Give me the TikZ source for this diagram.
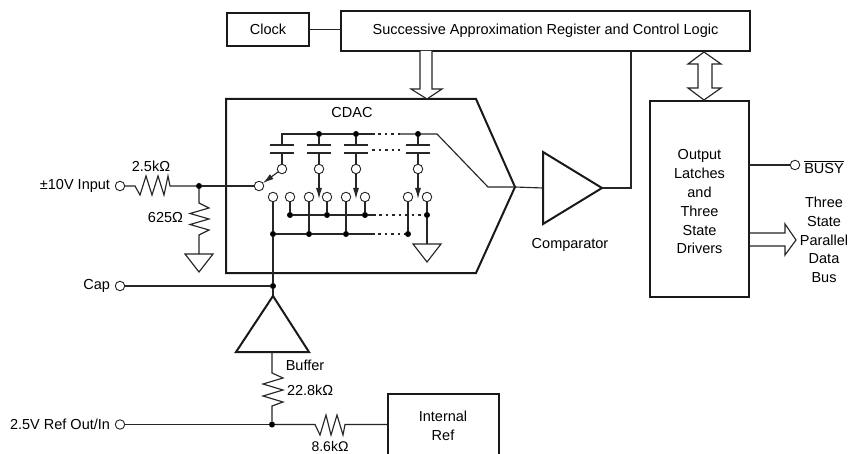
\documentclass[tikz,border=0pt]{standalone}
\usepackage{fontspec}
\setmainfont{Liberation Sans}
\usetikzlibrary{arrows.meta,calc}
\tikzset{
  x=1pt,y=-1pt,
  every node/.style={font=\fontsize{14.5}{17}\selectfont,inner sep=0pt,outer sep=0pt},
  wire/.style={line width=1.15pt,draw=black!85},
  heavy/.style={line width=2pt,draw=black!90,line join=miter},
  blockbox/.style={heavy,fill=white,rectangle,anchor=north west},
  term/.style={circle,draw=black!85,line width=.9pt,fill=white,minimum size=9.5pt},
  sw/.style={circle,draw=black!85,line width=.9pt,fill=white,minimum size=9.5pt},
  dot/.style={circle,fill=black,minimum size=6pt},
  openarrow/.style={line width=1.15pt,draw=black!85,fill=white,line join=miter},
  tip/.style={-{Latex[length=11pt,width=6pt]}},
  dots/.style={line width=1.1pt,draw=black!85,dash pattern=on 2.5pt off 4pt},
  lab/.style={align=center,font=\fontsize{14.5}{18.8}\selectfont}
}
\begin{document}
\begin{tikzpicture}
\useasboundingbox (0,0) rectangle (850,454);
\fill[white] (0,0) rectangle (850,454);

% top blocks
\node[blockbox,minimum width=82pt,minimum height=33pt] (clock) at (227,13) {};
\node at (clock.center) {Clock};
\node[blockbox,minimum width=409pt,minimum height=40pt] (sar) at (341,11) {};
\node at (sar.center) {Successive Approximation Register and Control Logic};
\draw[wire] (clock.east) -- (sar.west |- clock.east);

% CDAC body
\coordinate (cdacTip) at (515,187);
\draw[heavy] (226,99) -- (476,99) -- (cdacTip) -- (476,273) -- (226,273) -- cycle;
\node (cdaclabel) at (352,113) {CDAC};

% Output block
\node[blockbox,minimum width=99pt,minimum height=196pt] (out) at (650,101) {};
\node[lab,anchor=center,text width=90pt] at (699.5,202) {Output\\Latches\\and\\Three\\State\\Drivers};

% open arrows
\draw[openarrow] (420,51) -- (420,89) -- (411,89) -- (427,99) -- (442,89) -- (432,89) -- (432,51);
\draw[openarrow] (704,52) -- (721,64) -- (712,64) -- (712,88) -- (721,88) -- (704,100) -- (688,88) -- (698,88) -- (698,64) -- (688,64) -- cycle;
\draw[openarrow] (750,233) -- (785,233) -- (785,224) -- (796,240) -- (785,255) -- (785,246) -- (750,246);

% Comparator
\coordinate (cmpTip) at (602,188);
\coordinate (cmpIn) at (543,188);
\draw[heavy] (543,152) -- (cmpTip) -- (543,224) -- cycle;
\node at (570,245) {Comparator};
\draw[wire] (cdacTip) -- (cmpIn);
\coordinate (cmpUp) at (631,188);
\draw[wire] (cmpTip) -- (cmpUp) -- (cmpUp |- sar.south);

% Busy + bus labels
\node[term] (busy) at (795,165) {};
\draw[wire] (out.east |- busy) -- (busy);
\node at (824,167) {$\overline{\mbox{\rule{0pt}{11.5pt}BUSY}}$};
\node[lab] at (824,240) {Three\\State\\Parallel\\Data\\Bus};

% input network
\node[term] (vin) at (120,186) {};
\node[anchor=east] at (110,186) {±10V Input};
\node[dot] (j1) at (199,186) {};
\node at (151,166) {2.5kΩ};
\draw[wire] (vin) -- (135,186) -- (140,195) -- (146,176) -- (152,195) -- (158,176) -- (164,195) -- (168,176) -- (170,186) -- (j1);
\node[anchor=east] at (183,218) {625Ω};
\coordinate (g1) at (199,254);
\draw[wire] (j1) -- (199,203) -- (209,208) -- (190,213.5) -- (209,219) -- (190,224.5) -- (209,230) -- (199,235) -- (g1);
\draw[wire] (185,254) -- (213,254) -- (199,272) -- cycle;

% switch
\node[sw] (swin) at (259,186) {};
\draw[wire] (j1) -- (swin);
\node[sw] (s0) at (282,169) {};
\node[sw] (s1) at (319,169) {};
\node[sw] (s2) at (356,169) {};
\node[sw] (s3) at (418,169) {};

% capacitor array
\foreach \n/\x in {0/282,1/319,2/356,3/418}{
  \coordinate (ct\n) at (\x,145);
  \coordinate (cb\n) at (\x,153);
  \draw[wire,line width=1.3pt] (\x-12,145) -- (\x+12,145);
  \draw[wire,line width=1.3pt] (\x-12,153) -- (\x+12,153);
  \draw[wire] (cb\n) -- (s\n);
}
\coordinate (top0) at (282,134);
\node[dot] (top1) at (319,134) {};
\node[dot] (top2) at (356,134) {};
\node[dot] (top3) at (418,134) {};
\draw[wire] (ct0) -- (top0) -- (top1) -- (top2) -- (375,134);
\draw[dots] (378,134) -- (400,134);
\draw[wire] (400,134) -- (top3) -- (437,134) -- (488,187) -- (cdacTip);
\draw[wire] (top1) -- (ct1);
\draw[wire] (top2) -- (ct2);
\draw[wire] (top3) -- (ct3);
\draw[dots] (372,150) -- (400,150);

% switch contacts
\node[sw] (b0) at (273,197) {};
\node[sw] (a1) at (290,197) {};
\node[sw] (b1) at (309,197) {};
\node[sw] (a2) at (327,197) {};
\node[sw] (b2) at (346,197) {};
\node[sw] (a3) at (365,197) {};
\node[sw] (b3) at (408,197) {};
\node[sw] (a4) at (427,197) {};

\draw[wire,tip] (s0) -- (swin);
\draw[wire,tip] (s1) -- (319,199);
\draw[wire,tip] (s2) -- (356,199);
\draw[wire,tip] (s3) -- (418,199);

% bus rows
\node[dot] (ra1) at (290,215) {};
\node[dot] (ra2) at (327,215) {};
\node[dot] (ra3) at (365,215) {};
\node[dot] (ra4) at (427,215) {};
\node[dot] (rb0) at (273,234) {};
\node[dot] (rb1) at (309,234) {};
\node[dot] (rb2) at (346,234) {};
\node[dot] (rb3) at (408,234) {};
\draw[wire] (a1) -- (ra1);
\draw[wire] (a2) -- (ra2);
\draw[wire] (a3) -- (ra3);
\draw[wire] (a4) -- (ra4);
\draw[wire] (b1) -- (rb1);
\draw[wire] (b2) -- (rb2);
\draw[wire] (b3) -- (rb3);
\draw[wire] (ra1) -- (ra2) -- (ra3) -- (376,215);
\draw[dots] (379,215) -- (424,215);
\draw[wire] (rb0) -- (rb1) -- (rb2) -- (375,234);
\draw[dots] (378,234) -- (405,234);
\coordinate (g2) at (427,244);
\draw[wire] (ra4) -- (g2);
\draw[wire] (413,244) -- (441,244) -- (427,262) -- cycle;

% Cap + buffer
\node[term] (cap) at (120,286) {};
\node[anchor=east] at (110,286) {Cap};
\node[dot] (j2) at (273,286) {};
\draw[wire] (cap) -- (j2);
\draw[wire] (b0) -- (rb0) -- (j2);
\coordinate (bufTip) at (273,296);
\coordinate (bufBase) at (272,352);
\draw[wire] (j2) -- (bufTip);
\draw[heavy] (bufTip) -- (309,352) -- (236,352) -- cycle;
\node at (305,365) {Buffer};

% reference network
\node[term] (ref) at (120,424.5) {};
\node[anchor=east] at (110,424.5) {2.5V Ref Out/In};
\node[dot] (j3) at (272,424.5) {};
\draw[wire] (ref) -- (j3);
\draw[wire] (bufBase) -- (272,373) -- (283,378) -- (263,384) -- (283,390) -- (263,396) -- (283,402) -- (272,406) -- (j3);
\node[anchor=west] at (287,390) {22.8kΩ};
\node[lab] (iref) at (443,426) {Internal\\Ref};
\coordinate (irefW) at (388,424.5);
\draw[wire] (j3) -- (315,424.5) -- (320,435) -- (326,415) -- (331,435) -- (337,415) -- (343,435) -- (345,424.5) -- (irefW);
\node[anchor=base,font=\fontsize{14}{16}\selectfont] at (330,451.5) {8.6kΩ};
\draw[heavy] (388,456) -- (388,394) -- (499,394) -- (499,456);
\end{tikzpicture}
\end{document}
